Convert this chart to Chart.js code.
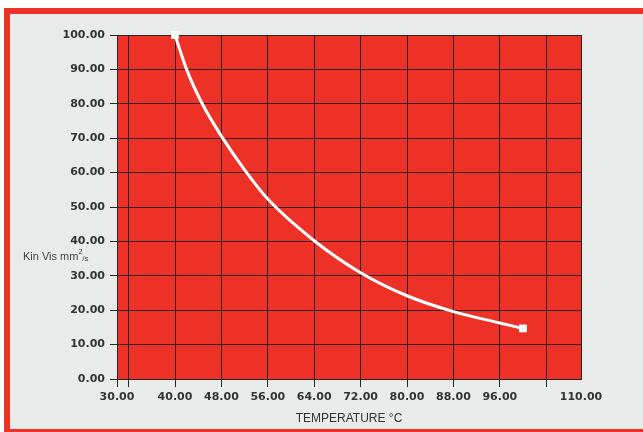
<!DOCTYPE html>
<html>
<head>
<meta charset="utf-8">
<script src="https://cdn.jsdelivr.net/npm/chart.js@4/dist/chart.umd.min.js"></script>
<style>
    html, body { margin: 0; padding: 0; background: #ffffff; overflow: hidden; }
    #chart { position: absolute; left: 0; top: 0; }
</style>
</head>
<body>
<canvas id="chart" width="643" height="432"></canvas>
<script>
// Values
const temperatures = [40, 42, 44.7, 48, 52, 56, 64, 72, 80, 88, 96, 100];
const viscosities = [100, 90, 80, 70.6, 60.8, 52.3, 40.2, 30.9, 24.2, 19.6, 16.3, 14.7];

// Axis ticks
const xTicks = [30, 32, 40, 48, 56, 64, 72, 80, 88, 96, 104, 110];
const xHiddenLabels = [32, 104];
const yTicks = [0, 10, 20, 30, 40, 50, 60, 70, 80, 90, 100];

const xTitle = 'TEMPERATURE \u00b0C';

const RED = '#ee3126';
const PANEL = '#e9eaea';
const GRID = '#2a2422';
const TEXT = '#333333';

// grey panel with a red frame on top, left and bottom
const panel = {
    id: 'panel',
    beforeDraw(chart) {
        const ctx = chart.ctx;
        const w = chart.width;
        const h = chart.height;
        ctx.save();
        ctx.fillStyle = '#ffffff';
        ctx.fillRect(0, 0, w, h);
        ctx.fillStyle = PANEL;
        ctx.fillRect(4, 8, w - 4, h - 8);
        ctx.fillStyle = RED;
        ctx.fillRect(4, 8, w - 4, 6);
        ctx.fillRect(4, 8, 6, h - 8);
        ctx.fillRect(4, 429, w - 4, 3);

        const a = chart.chartArea;
        ctx.fillRect(a.left, a.top, a.right - a.left, a.bottom - a.top);
        ctx.restore();
    }
};

const axisTitles = {
    id: 'axisTitles',
    afterDraw(chart) {
        const a = chart.chartArea;
        const ctx = chart.ctx;
        ctx.save();
        ctx.fillStyle = TEXT;
        ctx.textBaseline = 'middle';

        // x title
        ctx.font = '12px "Liberation Sans", Arial, sans-serif';
        ctx.textAlign = 'center';
        ctx.fillText(xTitle, (a.left + a.right) / 2, 419);

        // y title: Kin Vis mm²/s, written flat at the left
        ctx.fillStyle = '#444444';
        ctx.textAlign = 'left';
        let x = 23;
        const y = 257;
        ctx.font = '11px "Liberation Sans", Arial, sans-serif';
        ctx.fillText('Kin Vis mm', x, y);
        x += ctx.measureText('Kin Vis mm').width;
        ctx.font = '7px "Liberation Sans", Arial, sans-serif';
        ctx.fillText('2', x, y - 5);
        x += ctx.measureText('2').width;
        ctx.font = '8px "Liberation Sans", Arial, sans-serif';
        ctx.fillText('/s', x, y + 2);
        ctx.restore();
    }
};

const tickFont = { family: '"DejaVu Sans", sans-serif', size: 11, weight: 'bold' };

new Chart(document.getElementById('chart'), {
    type: 'line',
    data: {
        datasets: [
            {
                data: temperatures.map((t, i) => ({ x: t, y: viscosities[i] })),
                borderColor: '#ffffff',
                borderWidth: 3,
                cubicInterpolationMode: 'monotone',
                pointStyle: 'rect',
                pointRadius: (ctx) => (ctx.dataIndex === 0 || ctx.dataIndex === temperatures.length - 1) ? 5.5 : 0,
                pointBackgroundColor: '#ffffff',
                pointBorderWidth: 0,
                clip: 8
            }
        ]
    },
    options: {
        responsive: false,
        animation: false,
        devicePixelRatio: 1,
        layout: {
            padding: { left: 0, right: 62, top: 35, bottom: 0 }
        },
        plugins: {
            legend: { display: false },
            tooltip: { enabled: false }
        },
        scales: {
            x: {
                type: 'linear',
                min: 30,
                max: 110,
                afterBuildTicks: (scale) => {
                    scale.ticks = xTicks.map((v) => ({ value: v }));
                },
                afterFit: (scale) => {
                    scale.height = 53;
                },
                ticks: {
                    autoSkip: false,
                    maxRotation: 0,
                    color: TEXT,
                    font: tickFont,
                    padding: 4,
                    callback: (v) => xHiddenLabels.includes(v) ? '' : v.toFixed(2)
                },
                grid: {
                    color: GRID,
                    lineWidth: 1,
                    tickLength: 8,
                    tickColor: (ctx) => (ctx.tick && ctx.tick.value === 110) ? 'rgba(0,0,0,0)' : GRID
                },
                border: { color: GRID, width: 1 }
            },
            y: {
                type: 'linear',
                min: 0,
                max: 100,
                afterBuildTicks: (scale) => {
                    scale.ticks = yTicks.map((v) => ({ value: v }));
                },
                afterFit: (scale) => {
                    scale.width = 117;
                },
                ticks: {
                    color: TEXT,
                    font: tickFont,
                    padding: 5,
                    callback: (v) => v.toFixed(2)
                },
                grid: {
                    color: GRID,
                    lineWidth: 1,
                    tickLength: 7,
                    tickColor: GRID
                },
                border: { color: GRID, width: 1 }
            }
        }
    },
    plugins: [panel, axisTitles]
});
</script>
</body>
</html>
